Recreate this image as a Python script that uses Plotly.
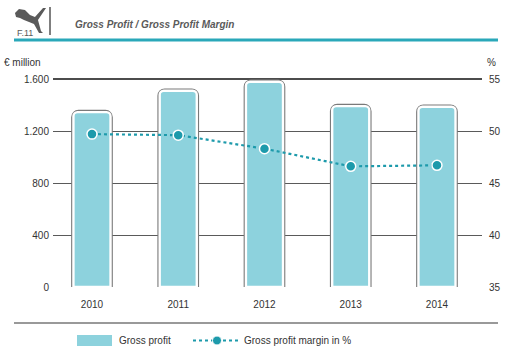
import plotly.graph_objects as go

years = ["2010", "2011", "2012", "2013", "2014"]
gross_profit = [1345, 1510, 1579, 1391, 1387]
gross_margin = [49.7, 49.6, 48.3, 46.6, 46.7]
left_ticks = [0, 400, 800, 1200, 1600]
left_tick_text = ["0", "400", "800", "1.200", "1.600"]
right_ticks = [35, 40, 45, 50, 55]
right_tick_text = ["35", "40", "45", "50", "55"]

W, H = 516, 360
L, R, T, B = 53, 482, 79, 287

def px(x):
    return (x - L) / (R - L)

def py(y):
    return (B - y) / (B - T)

BAR_FILL = "#8dd2dd"
TEAL = "#1d9aab"
TXT = "#333333"
FONT = "Liberation Sans, Arial, sans-serif"

fig = go.Figure()
# outer grey outline
fig.add_trace(go.Bar(x=years, y=gross_profit, width=0.43,
                     marker=dict(color=BAR_FILL, line=dict(color="#7a7a7a", width=4.6), cornerradius=5),
                     showlegend=False, hoverinfo="skip"))
# white inner ring + fill
fig.add_trace(go.Bar(x=years, y=gross_profit, width=0.43, name="Gross profit",
                     marker=dict(color=BAR_FILL, line=dict(color="white", width=2.4), cornerradius=4),
                     showlegend=False))
fig.add_trace(go.Scatter(x=years, y=gross_margin, yaxis="y2", mode="lines+markers",
                         name="Gross profit margin in %",
                         line=dict(color=TEAL, width=2.2, dash="dot"),
                         marker=dict(color=TEAL, size=10, line=dict(color="white", width=1.5)),
                         showlegend=False))

shapes = []
# top black gridline
shapes.append(dict(type="line", xref="paper", yref="paper", x0=0, x1=1, y0=1, y1=1,
                   line=dict(color="#111111", width=1.3), layer="below"))
# header teal rule
shapes.append(dict(type="line", xref="paper", yref="paper", x0=px(14), x1=px(498), y0=py(40), y1=py(40),
                   line=dict(color="#2aa8b9", width=3)))
# header vertical separator
shapes.append(dict(type="line", xref="paper", yref="paper", x0=px(50), x1=px(50), y0=py(7), y1=py(35),
                   line=dict(color="#555555", width=1.5)))
# bottom rule
shapes.append(dict(type="line", xref="paper", yref="paper", x0=px(14), x1=px(498), y0=py(323), y1=py(323),
                   line=dict(color="#777777", width=1.5)))
# rough puma cat silhouette
cat = [(15, 13), (19, 9), (25, 10), (30, 15), (35, 17), (43, 8), (46, 8), (38, 20), (41, 31),
       (43, 33), (39, 33), (34, 24), (29, 22), (24, 20), (20, 18), (16, 17)]
path = "M " + " L ".join(f"{px(a):.4f},{py(b):.4f}" for a, b in cat) + " Z"
shapes.append(dict(type="path", xref="paper", yref="paper", path=path,
                   fillcolor="#5a5a5a", line=dict(width=0)))
# legend: bar swatch
shapes.append(dict(type="rect", xref="paper", yref="paper", x0=px(77), x1=px(112), y0=py(346), y1=py(335),
                   fillcolor=BAR_FILL, line=dict(width=0)))
# legend: dotted line
shapes.append(dict(type="line", xref="paper", yref="paper", x0=px(193), x1=px(240), y0=py(340.5), y1=py(340.5),
                   line=dict(color=TEAL, width=2.2, dash="dot")))
shapes.append(dict(type="circle", xref="paper", yref="paper", x0=px(212.5), x1=px(221.5),
                   y0=py(345), y1=py(336), fillcolor=TEAL, line=dict(color="white", width=1)))

annotations = [
    dict(text="<b><i>Gross Profit / Gross Profit Margin</i></b>", x=px(73), y=py(24), xref="paper", yref="paper",
         xanchor="left", yanchor="middle", showarrow=False, font=dict(size=10, color="#5a5a5a", family=FONT)),
    dict(text="F.11", x=px(15), y=py(33), xref="paper", yref="paper", xanchor="left", yanchor="middle",
         showarrow=False, font=dict(size=9, color="#5a5a5a", family=FONT)),
    dict(text="€ million", x=px(2), y=py(62), xref="paper", yref="paper", xanchor="left", yanchor="middle",
         showarrow=False, font=dict(size=10, color=TXT, family=FONT)),
    dict(text="%", x=px(498), y=py(62), xref="paper", yref="paper", xanchor="right", yanchor="middle",
         showarrow=False, font=dict(size=10, color=TXT, family=FONT)),
    dict(text="Gross profit", x=px(117), y=py(340.5), xref="paper", yref="paper", xanchor="left",
         yanchor="middle", showarrow=False, font=dict(size=10, color=TXT, family=FONT)),
    dict(text="Gross profit margin in %", x=px(242), y=py(340.5), xref="paper", yref="paper", xanchor="left",
         yanchor="middle", showarrow=False, font=dict(size=10, color=TXT, family=FONT)),
]

fig.update_layout(
    width=W, height=H,
    margin=dict(l=L, r=W - R, t=T, b=H - B, pad=0),
    paper_bgcolor="white", plot_bgcolor="white",
    barmode="overlay",
    font=dict(family=FONT, size=10, color=TXT),
    showlegend=False,
    xaxis=dict(type="category", range=[-0.452, 4.522], showgrid=False, showline=False, ticks="",
               tickfont=dict(size=10, color=TXT), ticklabelstandoff=10),
    yaxis=dict(range=[0, 1600], tickvals=left_ticks, ticktext=left_tick_text, showgrid=True,
               gridcolor="#5a5a5a", gridwidth=1.3, zeroline=False, showline=False, ticks="",
               tickfont=dict(size=10, color=TXT), ticklabelstandoff=3),
    yaxis2=dict(range=[35, 55], overlaying="y", side="right", tickvals=right_ticks, ticktext=right_tick_text,
                showgrid=False, zeroline=False, showline=False, ticks="",
                tickfont=dict(size=10, color=TXT), ticklabelstandoff=6),
    shapes=shapes, annotations=annotations,
)

fig.write_html("out.html", config={"displayModeBar": False},
               post_script="document.body.style.margin='0';document.body.style.overflow='hidden';")
